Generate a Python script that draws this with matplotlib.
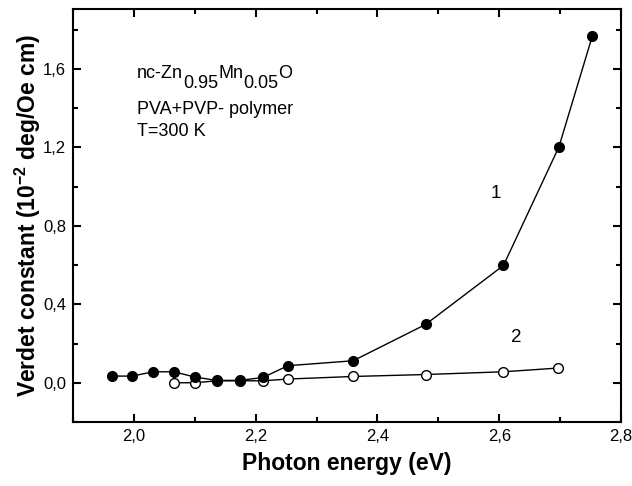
import matplotlib
matplotlib.use("Agg")
import matplotlib.pyplot as plt
from matplotlib.ticker import MultipleLocator, FuncFormatter

plt.rcParams['font.family'] = ['Liberation Sans', 'DejaVu Sans']
plt.rcParams['mathtext.fontset'] = 'custom'
plt.rcParams['mathtext.rm'] = 'Liberation Sans'
plt.rcParams['mathtext.it'] = 'Liberation Sans'
plt.rcParams['mathtext.bf'] = 'Liberation Sans:bold'

# curve 1 (filled circles)
e1 = [1.964, 1.997, 2.032, 2.066, 2.100, 2.136, 2.174, 2.212, 2.253, 2.360, 2.479, 2.607, 2.698, 2.753]
v1 = [0.034, 0.034, 0.056, 0.056, 0.029, 0.012, 0.012, 0.027, 0.087, 0.112, 0.297, 0.598, 1.202, 1.768]

# curve 2 (open circles)
e2 = [2.066, 2.100, 2.136, 2.174, 2.212, 2.253, 2.360, 2.479, 2.607, 2.697]
v2 = [0.000, 0.000, 0.010, 0.010, 0.010, 0.019, 0.032, 0.042, 0.056, 0.075]

# sample label: (text, is_subscript)
formula = [('nc-Zn', False), ('0.95', True), ('Mn', False), ('0.05', True), ('O', False)]
notes = ['PVA+PVP- polymer', 'T=300 K']

W, H = 632, 486
fig = plt.figure(figsize=(W / 100, H / 100), dpi=100)
ax = fig.add_axes([73 / W, 1 - 422 / H, (621 - 73) / W, (422 - 9) / H])

ax.plot(e1, v1, '-o', color='black', lw=1.0, ms=7, mfc='black', mec='black', zorder=3)
ax.plot(e2, v2, '-o', color='black', lw=1.0, ms=7, mfc='white', mec='black', mew=1.0, zorder=2)

ax.set_xlim(1.9, 2.8)
ax.set_ylim(-0.2, 1.905)
ax.xaxis.set_major_locator(MultipleLocator(0.2))
ax.xaxis.set_minor_locator(MultipleLocator(0.1))
ax.yaxis.set_major_locator(MultipleLocator(0.4))
ax.yaxis.set_minor_locator(MultipleLocator(0.2))
comma = FuncFormatter(lambda v, p: ('%.1f' % v).replace('.', ','))
ax.xaxis.set_major_formatter(comma)
ax.yaxis.set_major_formatter(comma)

ax.tick_params(which='both', direction='in', top=True, right=True, width=1.5, labelsize=12)
ax.tick_params(which='major', length=5.5, pad=5)
ax.tick_params(which='minor', length=3.5)
for s in ax.spines.values():
    s.set_linewidth(1.5)

ax.set_xlabel('Photon energy (eV)', fontsize=16.5, fontweight='bold', labelpad=6)
ax.set_ylabel(r'Verdet constant (10$^{\mathbf{-2}}$ deg/Oe cm)', fontsize=16.5, fontweight='bold', labelpad=0)

def fig_xy(px, py):
    return px / W, 1 - py / H

# formula line built piece by piece so the subscripts stay full size
renderer = fig.canvas.get_renderer()
x0, base = 137, 78
for piece, sub in formula:
    t = fig.text(*fig_xy(x0, base + (10 if sub else 0)), piece, fontsize=13, va='baseline')
    x0 = t.get_window_extent(renderer).x1

for i, line in enumerate(notes):
    fig.text(*fig_xy(137, 110 + 21 * i), line, fontsize=13, va='center')

ax.text(2.595, 0.963, '1', fontsize=13.5, ha='center', va='center')
ax.text(2.628, 0.23, '2', fontsize=13.5, ha='center', va='center')

fig.savefig('out.png', dpi=100)
